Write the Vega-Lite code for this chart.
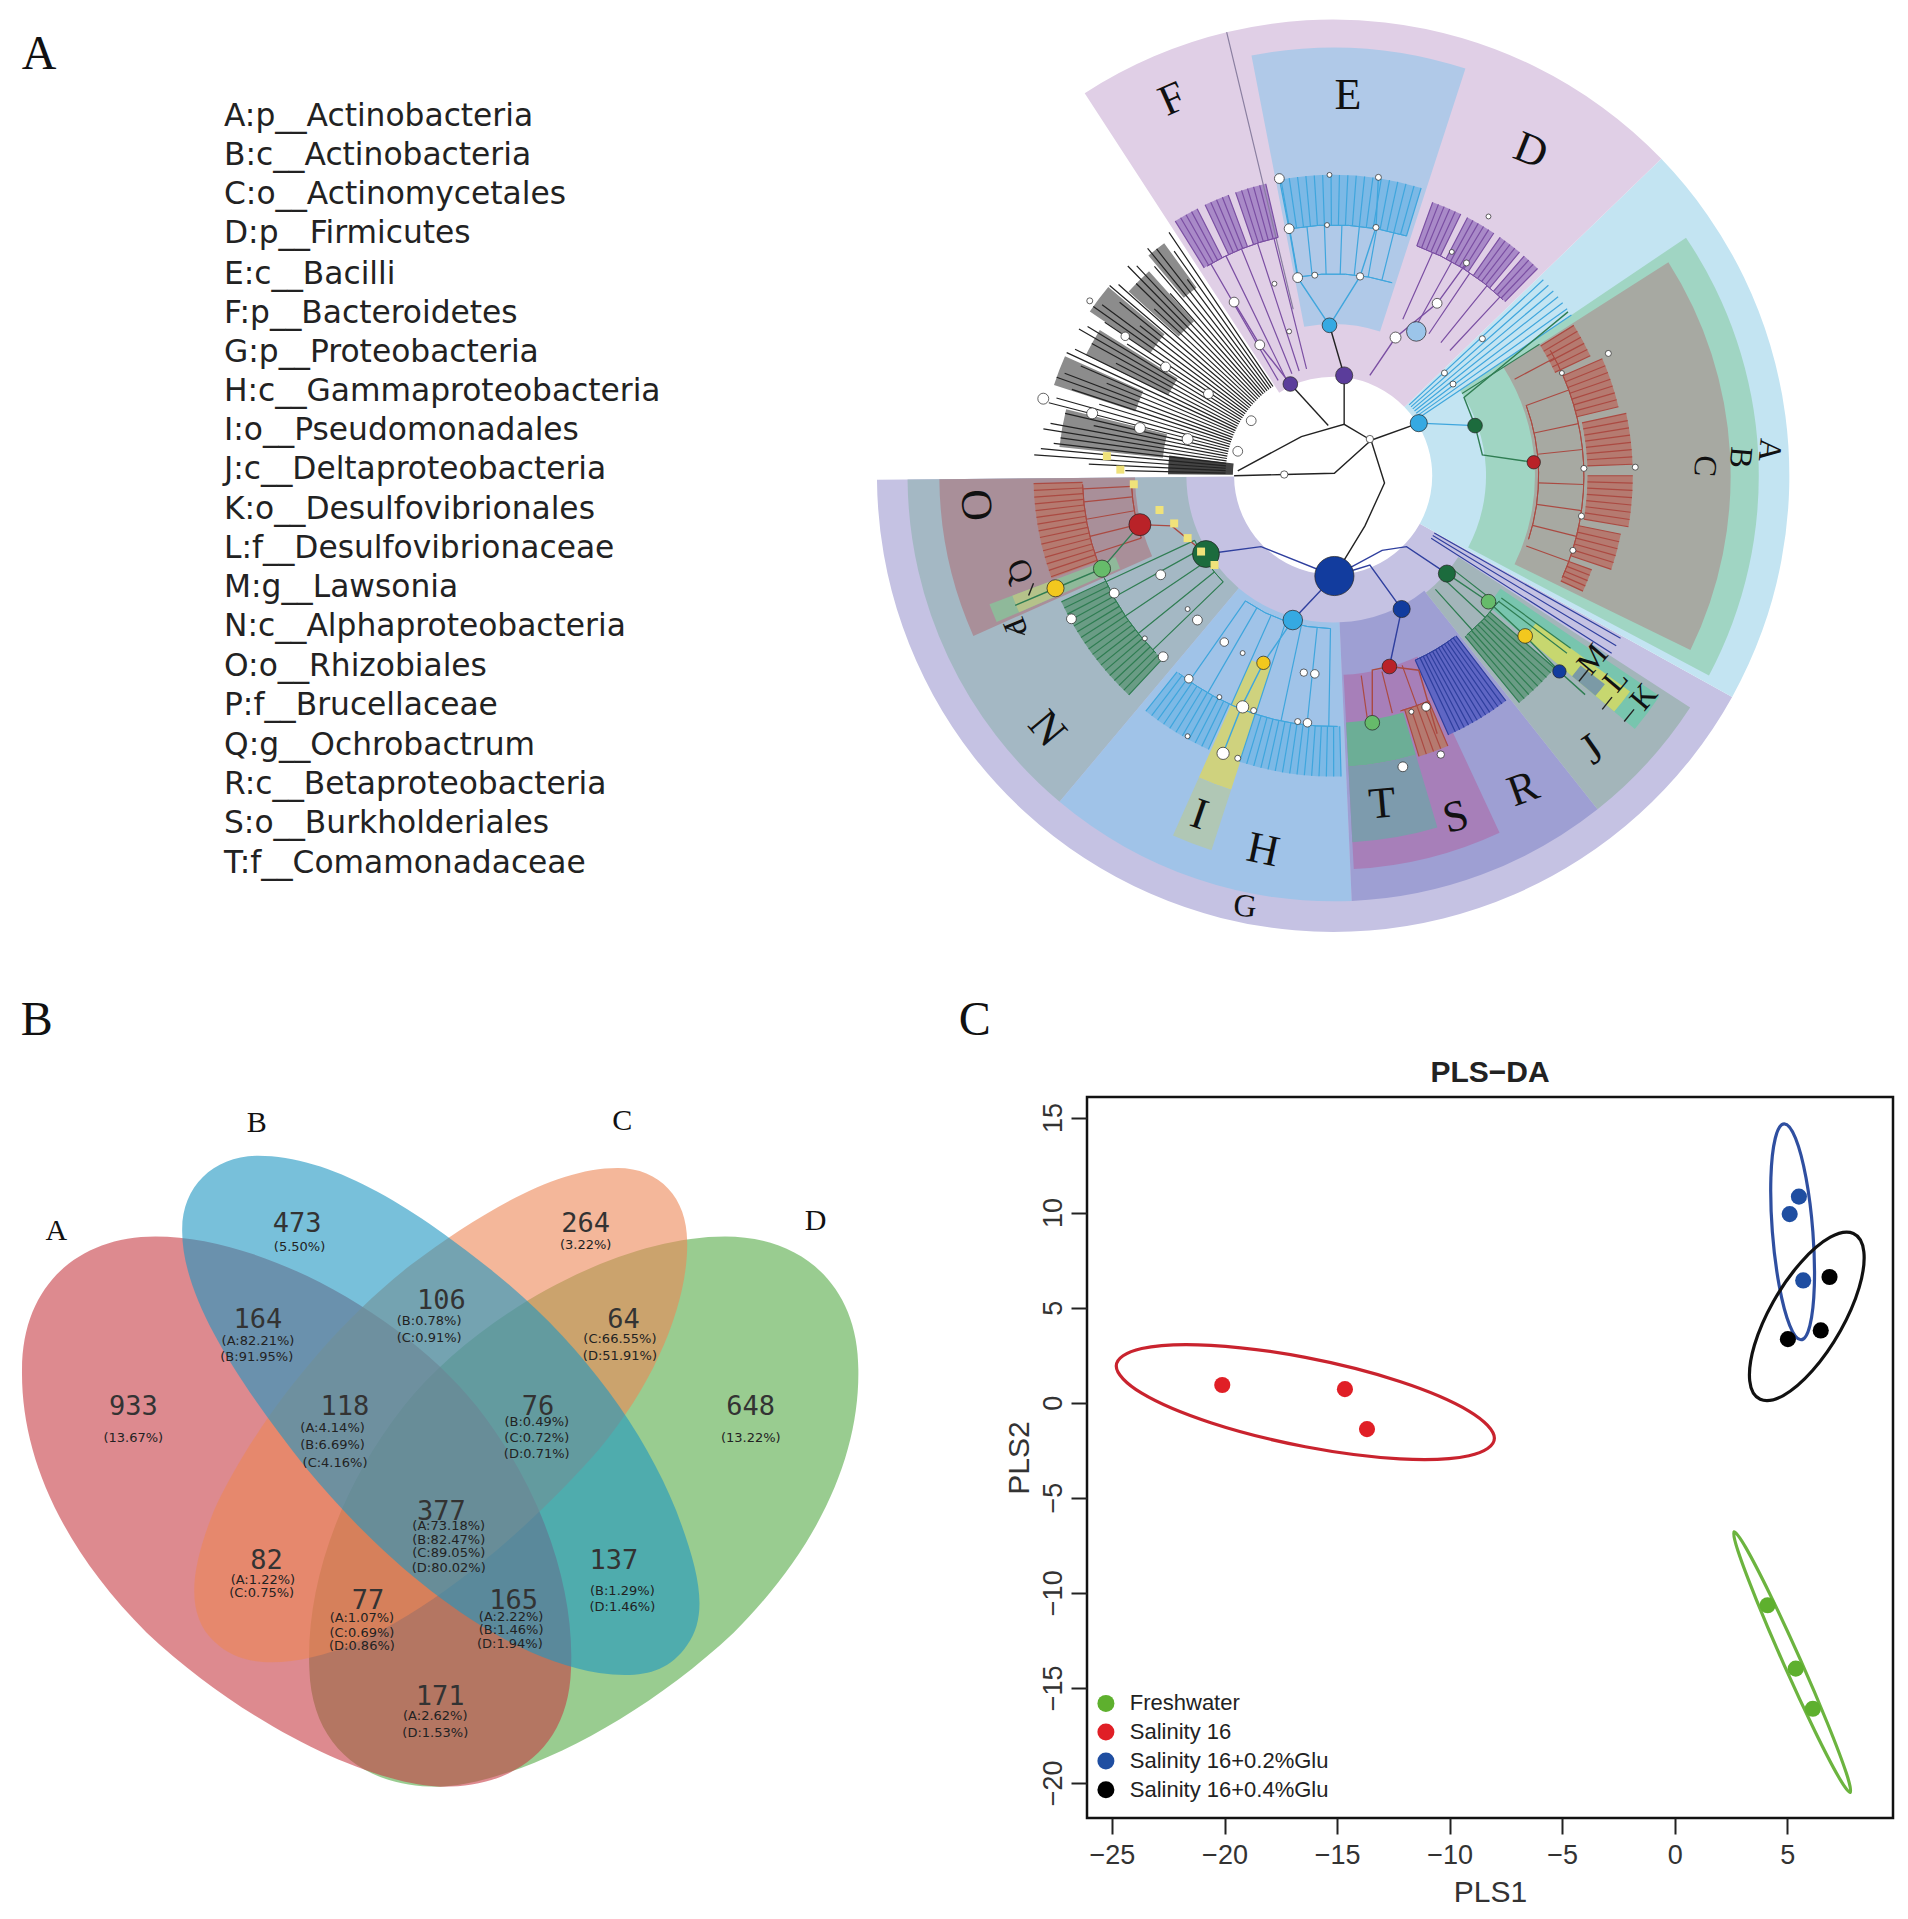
{"$schema":"https://vega.github.io/schema/vega-lite/v6.json","padding":0,"background":"white","spacing":0,"bounds":"flush","config":{"view":{"stroke":null}},
"resolve":{"scale":{"color":"independent","fill":"independent","stroke":"independent","size":"independent","shape":"independent"}},
"datasets":{
"zones":[
{"n":"G","t":119,"u":269.5,"a":81,"b":373},{"n":"A","t":46,"u":119,"a":81,"b":373},{"n":"D","t":-33,"u":46,"a":81,"b":373},
{"n":"N","t":220,"u":269.5,"a":120,"b":348},{"n":"H","t":177.5,"u":220,"a":120,"b":348},{"n":"R","t":141.6,"u":177.5,"a":120,"b":348},{"n":"J","t":123,"u":141.6,"a":122,"b":348},
{"n":"B","t":56,"u":118,"a":125,"b":348},{"n":"C","t":57.5,"u":116,"a":165,"b":325},{"n":"E","t":-11,"u":18,"a":124,"b":350},
{"n":"O","t":246,"u":269.5,"a":162,"b":322},{"n":"I1","t":198,"u":204,"a":165,"b":270},{"n":"I2","t":198,"u":204,"a":270,"b":322},
{"n":"S","t":155,"u":177,"a":163,"b":322},{"n":"T1","t":163.5,"u":177,"a":202,"b":238},{"n":"T2","t":163.5,"u":177,"a":238,"b":300},
{"n":"K","t":124,"u":130,"a":165,"b":322},{"n":"L","t":126,"u":130,"a":205,"b":300},{"n":"M","t":127.5,"u":130,"a":255,"b":280},
{"n":"P","t":246.5,"u":249.5,"a":190,"b":300},{"n":"Q","t":246.5,"u":249.5,"a":240,"b":280},{"n":"hub","t":-89.5,"u":-83,"a":82,"b":135},
{"n":"fr","t":58,"u":65,"a":200,"b":232},{"n":"fr","t":66.5,"u":76.4,"a":205,"b":240},{"n":"fr","t":78,"u":87.8,"a":208,"b":245},{"n":"fr","t":90,"u":99.8,"a":208,"b":245},{"n":"fr","t":101.5,"u":108.6,"a":205,"b":240},{"n":"fr","t":110,"u":114.8,"a":205,"b":225},{"n":"fr","t":250,"u":268.5,"a":205,"b":245},{"n":"fr","t":157,"u":163,"a":200,"b":240},
{"n":"fp","t":20,"u":26,"a":200,"b":238},{"n":"fp","t":27.5,"u":33.5,"a":200,"b":238},{"n":"fp","t":35,"u":39.8,"a":200,"b":238},{"n":"fp","t":41,"u":44.6,"a":200,"b":238},{"n":"fp","t":-19,"u":-13,"a":200,"b":245},{"n":"fp","t":-25.3,"u":-20.5,"a":200,"b":245},{"n":"fp","t":-31.8,"u":-27,"a":200,"b":245},
{"n":"fb","t":-10,"u":17,"a":205,"b":246},{"n":"fb","t":178.5,"u":198,"a":205,"b":246},{"n":"fb","t":204.5,"u":218.5,"a":205,"b":246},
{"n":"fd","t":223,"u":245,"a":205,"b":245},{"n":"fd","t":131,"u":140.6,"a":170,"b":240},{"n":"fn","t":142.5,"u":156,"a":165,"b":232},
{"n":"fk","t":-40,"u":-36,"a":190,"b":235},{"n":"fk","t":-48,"u":-42,"a":170,"b":225},{"n":"fk","t":-56,"u":-50,"a":180,"b":240},{"n":"fk","t":-64,"u":-58,"a":150,"b":225},{"n":"fk","t":-72,"u":-66,"a":170,"b":240},{"n":"fk","t":-84,"u":-76,"a":140,"b":225}],
"rad":[
{"t":58,"a":200,"b":232,"g":"r"},{"t":59.4,"a":200,"b":232,"g":"r"},{"t":60.8,"a":200,"b":232,"g":"r"},{"t":62.2,"a":200,"b":232,"g":"r"},{"t":63.6,"a":200,"b":232,"g":"r"},{"t":65,"a":200,"b":232,"g":"r"},
{"t":66.5,"a":205,"b":240,"g":"r"},{"t":68,"a":205,"b":240,"g":"r"},{"t":69.4,"a":205,"b":240,"g":"r"},{"t":70.8,"a":205,"b":240,"g":"r"},{"t":72.2,"a":205,"b":240,"g":"r"},{"t":73.6,"a":205,"b":240,"g":"r"},{"t":75,"a":205,"b":240,"g":"r"},{"t":76.4,"a":205,"b":240,"g":"r"},
{"t":78,"a":208,"b":245,"g":"r"},{"t":79.4,"a":208,"b":245,"g":"r"},{"t":80.8,"a":208,"b":245,"g":"r"},{"t":82.2,"a":208,"b":245,"g":"r"},{"t":83.6,"a":208,"b":245,"g":"r"},{"t":85,"a":208,"b":245,"g":"r"},{"t":86.4,"a":208,"b":245,"g":"r"},{"t":87.8,"a":208,"b":245,"g":"r"},
{"t":90,"a":208,"b":245,"g":"r"},{"t":91.4,"a":208,"b":245,"g":"r"},{"t":92.8,"a":208,"b":245,"g":"r"},{"t":94.2,"a":208,"b":245,"g":"r"},{"t":95.6,"a":208,"b":245,"g":"r"},{"t":97,"a":208,"b":245,"g":"r"},{"t":98.4,"a":208,"b":245,"g":"r"},{"t":99.8,"a":208,"b":245,"g":"r"},
{"t":101.5,"a":205,"b":240,"g":"r"},{"t":103,"a":205,"b":240,"g":"r"},{"t":104.4,"a":205,"b":240,"g":"r"},{"t":105.8,"a":205,"b":240,"g":"r"},{"t":107.2,"a":205,"b":240,"g":"r"},{"t":108.6,"a":205,"b":240,"g":"r"},
{"t":110,"a":205,"b":225,"g":"r"},{"t":111.2,"a":205,"b":225,"g":"r"},{"t":112.4,"a":205,"b":225,"g":"r"},{"t":113.6,"a":205,"b":225,"g":"r"},{"t":114.8,"a":205,"b":225,"g":"r"},
{"t":62,"a":168,"b":205,"g":"r"},{"t":70,"a":168,"b":205,"g":"r"},{"t":78,"a":168,"b":205,"g":"r"},{"t":84,"a":168,"b":205,"g":"r"},{"t":92,"a":168,"b":205,"g":"r"},{"t":98,"a":168,"b":205,"g":"r"},{"t":104,"a":168,"b":205,"g":"r"},{"t":110,"a":168,"b":205,"g":"r"},
{"t":47,"a":85,"b":235,"g":"b"},{"t":48.5,"a":85,"b":235,"g":"b"},{"t":50,"a":85,"b":235,"g":"b"},{"t":51.5,"a":85,"b":235,"g":"b"},{"t":53,"a":85,"b":235,"g":"b"},{"t":54.5,"a":85,"b":235,"g":"b"},{"t":56,"a":85,"b":235,"g":"b"},{"t":57.5,"a":125,"b":200,"g":"d"},
{"t":20,"a":200,"b":238,"g":"p"},{"t":21.2,"a":200,"b":238,"g":"p"},{"t":22.4,"a":200,"b":238,"g":"p"},{"t":23.6,"a":200,"b":238,"g":"p"},{"t":24.8,"a":200,"b":238,"g":"p"},{"t":26,"a":200,"b":238,"g":"p"},{"t":27.5,"a":200,"b":238,"g":"p"},{"t":28.7,"a":200,"b":238,"g":"p"},{"t":29.9,"a":200,"b":238,"g":"p"},{"t":31.1,"a":200,"b":238,"g":"p"},{"t":32.3,"a":200,"b":238,"g":"p"},{"t":33.5,"a":200,"b":238,"g":"p"},{"t":35,"a":200,"b":238,"g":"p"},{"t":36.2,"a":200,"b":238,"g":"p"},{"t":37.4,"a":200,"b":238,"g":"p"},{"t":38.6,"a":200,"b":238,"g":"p"},{"t":39.8,"a":200,"b":238,"g":"p"},{"t":41,"a":200,"b":238,"g":"p"},{"t":42.2,"a":200,"b":238,"g":"p"},{"t":43.4,"a":200,"b":238,"g":"p"},{"t":44.6,"a":200,"b":238,"g":"p"},
{"t":24,"a":140,"b":200,"g":"p"},{"t":29,"a":140,"b":200,"g":"p"},{"t":34,"a":140,"b":200,"g":"p"},{"t":39,"a":140,"b":200,"g":"p"},{"t":43,"a":140,"b":200,"g":"p"},
{"t":-10,"a":205,"b":246,"g":"b"},{"t":-8.4,"a":205,"b":246,"g":"b"},{"t":-6.8,"a":205,"b":246,"g":"b"},{"t":-5.2,"a":205,"b":246,"g":"b"},{"t":-3.6,"a":205,"b":246,"g":"b"},{"t":-2,"a":205,"b":246,"g":"b"},{"t":-0.4,"a":205,"b":246,"g":"b"},{"t":1.2,"a":205,"b":246,"g":"b"},{"t":2.8,"a":205,"b":246,"g":"b"},{"t":4.4,"a":205,"b":246,"g":"b"},{"t":6,"a":205,"b":246,"g":"b"},{"t":7.6,"a":205,"b":246,"g":"b"},{"t":9.2,"a":205,"b":246,"g":"b"},{"t":10.8,"a":205,"b":246,"g":"b"},{"t":12.4,"a":205,"b":246,"g":"b"},{"t":14,"a":205,"b":246,"g":"b"},{"t":15.6,"a":205,"b":246,"g":"b"},{"t":17,"a":205,"b":246,"g":"b"},
{"t":-10,"a":165,"b":205,"g":"b"},{"t":-6,"a":165,"b":205,"g":"b"},{"t":-2,"a":165,"b":205,"g":"b"},{"t":2,"a":165,"b":205,"g":"b"},{"t":6,"a":165,"b":205,"g":"b"},{"t":10,"a":165,"b":205,"g":"b"},{"t":14,"a":165,"b":205,"g":"b"},
{"t":-13,"a":200,"b":245,"g":"p"},{"t":-14.2,"a":200,"b":245,"g":"p"},{"t":-15.4,"a":200,"b":245,"g":"p"},{"t":-16.6,"a":200,"b":245,"g":"p"},{"t":-17.8,"a":200,"b":245,"g":"p"},{"t":-19,"a":200,"b":245,"g":"p"},{"t":-20.5,"a":200,"b":245,"g":"p"},{"t":-21.7,"a":200,"b":245,"g":"p"},{"t":-22.9,"a":200,"b":245,"g":"p"},{"t":-24.1,"a":200,"b":245,"g":"p"},{"t":-25.3,"a":200,"b":245,"g":"p"},{"t":-27,"a":200,"b":245,"g":"p"},{"t":-28.2,"a":200,"b":245,"g":"p"},{"t":-29.4,"a":200,"b":245,"g":"p"},{"t":-30.6,"a":200,"b":245,"g":"p"},{"t":-31.8,"a":200,"b":245,"g":"p"},
{"t":-14,"a":90,"b":200,"g":"p"},{"t":-18,"a":90,"b":200,"g":"p"},{"t":-22,"a":90,"b":200,"g":"p"},{"t":-26,"a":90,"b":200,"g":"p"},{"t":-30,"a":90,"b":200,"g":"p"},{"t":-13.5,"a":140,"b":373,"g":"s"},
{"t":-34,"a":88,"b":240,"g":"k"},{"t":-35.3,"a":88,"b":225,"g":"k"},{"t":-36.6,"a":88,"b":200,"g":"k"},{"t":-37.9,"a":88,"b":235,"g":"k"},{"t":-39.2,"a":88,"b":240,"g":"k"},{"t":-40.5,"a":88,"b":225,"g":"k"},{"t":-41.8,"a":88,"b":200,"g":"k"},{"t":-43.1,"a":88,"b":235,"g":"k"},{"t":-44.4,"a":88,"b":240,"g":"k"},{"t":-45.7,"a":88,"b":225,"g":"k"},{"t":-47,"a":88,"b":200,"g":"k"},{"t":-48.3,"a":88,"b":235,"g":"k"},{"t":-49.6,"a":88,"b":240,"g":"k"},{"t":-50.9,"a":88,"b":225,"g":"k"},{"t":-52.2,"a":88,"b":200,"g":"k"},{"t":-53.5,"a":88,"b":235,"g":"k"},{"t":-54.8,"a":88,"b":240,"g":"k"},{"t":-56.1,"a":88,"b":225,"g":"k"},{"t":-57.4,"a":88,"b":200,"g":"k"},{"t":-58.7,"a":88,"b":235,"g":"k"},{"t":-60,"a":88,"b":240,"g":"k"},{"t":-61.3,"a":88,"b":225,"g":"k"},{"t":-62.6,"a":88,"b":200,"g":"k"},{"t":-63.9,"a":88,"b":235,"g":"k"},{"t":-65.2,"a":88,"b":240,"g":"k"},{"t":-66.5,"a":88,"b":225,"g":"k"},{"t":-67.8,"a":88,"b":200,"g":"k"},{"t":-69.1,"a":88,"b":235,"g":"k"},{"t":-70.4,"a":88,"b":240,"g":"k"},{"t":-71.7,"a":88,"b":225,"g":"k"},{"t":-73,"a":88,"b":200,"g":"k"},{"t":-74.3,"a":88,"b":235,"g":"k"},{"t":-75.6,"a":88,"b":240,"g":"k"},{"t":-76.9,"a":88,"b":225,"g":"k"},{"t":-78.2,"a":88,"b":200,"g":"k"},{"t":-79.5,"a":88,"b":235,"g":"k"},{"t":-80.8,"a":88,"b":240,"g":"k"},{"t":-82.1,"a":88,"b":225,"g":"k"},{"t":-83.4,"a":88,"b":230,"g":"k"},{"t":-84.7,"a":88,"b":240,"g":"k"},{"t":-86,"a":88,"b":245,"g":"k"},{"t":-87.3,"a":88,"b":200,"g":"k"},{"t":-88.6,"a":88,"b":170,"g":"k"},
{"t":223,"a":205,"b":245,"g":"d"},{"t":224.3,"a":205,"b":245,"g":"d"},{"t":225.6,"a":205,"b":245,"g":"d"},{"t":226.9,"a":205,"b":245,"g":"d"},{"t":228.2,"a":205,"b":245,"g":"d"},{"t":229.5,"a":205,"b":245,"g":"d"},{"t":230.8,"a":205,"b":245,"g":"d"},{"t":232.1,"a":205,"b":245,"g":"d"},{"t":233.4,"a":205,"b":245,"g":"d"},{"t":234.7,"a":205,"b":245,"g":"d"},{"t":236,"a":205,"b":245,"g":"d"},{"t":237.3,"a":205,"b":245,"g":"d"},{"t":238.6,"a":205,"b":245,"g":"d"},{"t":239.9,"a":205,"b":245,"g":"d"},{"t":241.2,"a":205,"b":245,"g":"d"},{"t":242.5,"a":205,"b":245,"g":"d"},{"t":243.8,"a":205,"b":245,"g":"d"},{"t":245.1,"a":205,"b":245,"g":"d"},
{"t":226,"a":125,"b":205,"g":"d"},{"t":231,"a":125,"b":205,"g":"d"},{"t":236,"a":125,"b":205,"g":"d"},{"t":241,"a":125,"b":205,"g":"d"},{"t":245,"a":125,"b":205,"g":"d"},
{"t":250.3,"a":205,"b":245,"g":"r"},{"t":251.6,"a":205,"b":245,"g":"r"},{"t":252.9,"a":205,"b":245,"g":"r"},{"t":254.2,"a":205,"b":245,"g":"r"},{"t":255.5,"a":205,"b":245,"g":"r"},{"t":256.8,"a":205,"b":245,"g":"r"},{"t":258.1,"a":205,"b":245,"g":"r"},{"t":259.4,"a":205,"b":245,"g":"r"},{"t":260.7,"a":205,"b":245,"g":"r"},{"t":262,"a":205,"b":245,"g":"r"},{"t":263.3,"a":205,"b":245,"g":"r"},{"t":264.6,"a":205,"b":245,"g":"r"},{"t":265.9,"a":205,"b":245,"g":"r"},{"t":267.2,"a":205,"b":245,"g":"r"},{"t":268.5,"a":205,"b":245,"g":"r"},
{"t":252,"a":165,"b":205,"g":"r"},{"t":256,"a":165,"b":205,"g":"r"},{"t":260,"a":165,"b":205,"g":"r"},{"t":264,"a":165,"b":205,"g":"r"},{"t":267,"a":165,"b":205,"g":"r"},
{"t":178.5,"a":205,"b":246,"g":"b"},{"t":179.9,"a":205,"b":246,"g":"b"},{"t":181.3,"a":205,"b":246,"g":"b"},{"t":182.7,"a":205,"b":246,"g":"b"},{"t":184.1,"a":205,"b":246,"g":"b"},{"t":185.5,"a":205,"b":246,"g":"b"},{"t":186.9,"a":205,"b":246,"g":"b"},{"t":188.3,"a":205,"b":246,"g":"b"},{"t":189.7,"a":205,"b":246,"g":"b"},{"t":191.1,"a":205,"b":246,"g":"b"},{"t":192.5,"a":205,"b":246,"g":"b"},{"t":193.9,"a":205,"b":246,"g":"b"},{"t":195.3,"a":205,"b":246,"g":"b"},{"t":196.7,"a":205,"b":246,"g":"b"},{"t":198.1,"a":205,"b":246,"g":"b"},{"t":204.5,"a":205,"b":246,"g":"b"},{"t":205.9,"a":205,"b":246,"g":"b"},{"t":207.3,"a":205,"b":246,"g":"b"},{"t":208.7,"a":205,"b":246,"g":"b"},{"t":210.1,"a":205,"b":246,"g":"b"},{"t":211.5,"a":205,"b":246,"g":"b"},{"t":212.9,"a":205,"b":246,"g":"b"},{"t":214.3,"a":205,"b":246,"g":"b"},{"t":215.7,"a":205,"b":246,"g":"b"},{"t":217.1,"a":205,"b":246,"g":"b"},{"t":218.5,"a":205,"b":246,"g":"b"},
{"t":181,"a":125,"b":205,"g":"b"},{"t":186,"a":125,"b":205,"g":"b"},{"t":192,"a":125,"b":205,"g":"b"},{"t":198,"a":125,"b":205,"g":"b"},{"t":204,"a":125,"b":205,"g":"b"},{"t":210,"a":125,"b":205,"g":"b"},{"t":215,"a":125,"b":205,"g":"b"},
{"t":142.5,"a":165,"b":232,"g":"n"},{"t":143.5,"a":165,"b":232,"g":"n"},{"t":144.5,"a":165,"b":232,"g":"n"},{"t":145.5,"a":165,"b":232,"g":"n"},{"t":146.5,"a":165,"b":232,"g":"n"},{"t":147.5,"a":165,"b":232,"g":"n"},{"t":148.5,"a":165,"b":232,"g":"n"},{"t":149.5,"a":165,"b":232,"g":"n"},{"t":150.5,"a":165,"b":232,"g":"n"},{"t":151.5,"a":165,"b":232,"g":"n"},{"t":152.5,"a":165,"b":232,"g":"n"},{"t":153.5,"a":165,"b":232,"g":"n"},{"t":154.5,"a":165,"b":232,"g":"n"},{"t":156,"a":165,"b":232,"g":"n"},
{"t":157,"a":200,"b":240,"g":"r"},{"t":158.5,"a":200,"b":240,"g":"r"},{"t":160,"a":200,"b":240,"g":"r"},{"t":161.5,"a":200,"b":240,"g":"r"},{"t":163,"a":200,"b":240,"g":"r"},{"t":160,"a":165,"b":200,"g":"r"},{"t":166,"a":165,"b":200,"g":"r"},{"t":172,"a":165,"b":200,"g":"r"},
{"t":126,"a":170,"b":240,"g":"d"},{"t":127.2,"a":170,"b":240,"g":"d"},{"t":131,"a":170,"b":240,"g":"d"},{"t":132.2,"a":170,"b":240,"g":"d"},{"t":133.4,"a":170,"b":240,"g":"d"},{"t":134.6,"a":170,"b":240,"g":"d"},{"t":135.8,"a":170,"b":240,"g":"d"},{"t":137,"a":170,"b":240,"g":"d"},{"t":138.2,"a":170,"b":240,"g":"d"},{"t":139.4,"a":170,"b":240,"g":"d"},{"t":140.6,"a":170,"b":240,"g":"d"},{"t":128,"a":125,"b":170,"g":"d"},{"t":133,"a":125,"b":170,"g":"d"},{"t":138,"a":125,"b":170,"g":"d"},
{"t":119.5,"a":95,"b":270,"g":"n"},{"t":121,"a":95,"b":270,"g":"n"},{"t":122.5,"a":95,"b":270,"g":"n"}],
"circ":[{"t":70,"u":108,"r":168,"g":"r"},{"t":60,"u":114,"r":205,"g":"r"},{"t":225,"u":246,"r":205,"g":"d"},{"t":250,"u":268,"r":205,"g":"r"},{"t":179,"u":218,"r":205,"g":"b"},{"t":20,"u":44,"r":200,"g":"p"},{"t":-31,"u":-13,"r":200,"g":"p"},{"t":-10,"u":17,"r":205,"g":"b"},{"t":-10,"u":17,"r":165,"g":"b"},{"t":143,"u":156,"r":165,"g":"n"},{"t":157,"u":164,"r":200,"g":"r"},{"t":127,"u":140,"r":170,"g":"d"},{"t":181,"u":215,"r":125,"g":"b"},{"t":226,"u":245,"r":125,"g":"d"},{"t":252,"u":267,"r":165,"g":"r"}],
"links":[
{"p":1,"o":1,"x":1091,"y":471,"g":"k"},{"p":1,"o":2,"x":1116,"y":430,"g":"k"},{"p":1,"o":3,"x":1132,"y":395,"g":"k"},{"p":1,"o":4,"x":1121,"y":360,"g":"k"},
{"p":2,"o":1,"x":1121,"y":360,"g":"k"},{"p":2,"o":2,"x":1099,"y":347,"g":"k"},{"p":2,"o":3,"x":1064,"y":357,"g":"k"},{"p":2,"o":4,"x":1012,"y":385,"g":"k"},
{"p":3,"o":1,"x":1121,"y":360,"g":"k"},{"p":3,"o":2,"x":1091,"y":387,"g":"k"},{"p":3,"o":3,"x":1050,"y":388,"g":"k"},{"p":3,"o":4,"x":1009,"y":389,"g":"k"},
{"p":4,"o":1,"x":1121,"y":360,"g":"k"},{"p":4,"o":2,"x":1160,"y":346,"g":"k"},{"p":5,"o":1,"x":1099,"y":347,"g":"k"},{"p":5,"o":2,"x":1099,"y":307,"g":"k"},{"p":6,"o":1,"x":1086,"y":348,"g":"k"},{"p":6,"o":2,"x":1055,"y":314,"g":"k"},
{"p":7,"o":1,"x":1091,"y":471,"g":"n"},{"p":7,"o":2,"x":1031,"y":447,"g":"n"},{"p":7,"o":3,"x":986,"y":453,"g":"n"},{"p":8,"o":1,"x":1091,"y":471,"g":"n"},{"p":8,"o":2,"x":1057,"y":507,"g":"n"},
{"p":9,"o":1,"x":1091,"y":471,"g":"n"},{"p":9,"o":2,"x":1120,"y":462,"g":"n"},{"p":9,"o":3,"x":1146,"y":498,"g":"n"},{"p":10,"o":1,"x":1091,"y":471,"g":"n"},{"p":10,"o":2,"x":1130,"y":450,"g":"n"},{"p":10,"o":3,"x":1150,"y":447,"g":"n"},{"p":10,"o":4,"x":1183,"y":469,"g":"n"},{"p":11,"o":1,"x":1146,"y":498,"g":"n"},{"p":11,"o":2,"x":1136,"y":545,"g":"n"},
{"p":12,"o":1,"x":1136,"y":545,"g":"r"},{"p":12,"o":2,"x":1122,"y":548,"g":"r"},{"p":12,"o":3,"x":1122,"y":591,"g":"r"},{"p":13,"o":1,"x":1136,"y":545,"g":"r"},{"p":13,"o":2,"x":1160,"y":548,"g":"r"},{"p":13,"o":3,"x":1175,"y":600,"g":"r"},
{"p":14,"o":1,"x":1057,"y":507,"g":"b"},{"p":14,"o":2,"x":1033,"y":542,"g":"b"},{"p":14,"o":3,"x":1015,"y":578,"g":"b"},{"p":14,"o":4,"x":1000,"y":616,"g":"b"},
{"p":15,"o":1,"x":986,"y":453,"g":"r"},{"p":15,"o":2,"x":958,"y":430,"g":"r"},{"p":15,"o":3,"x":932,"y":429,"g":"r"},{"p":16,"o":1,"x":932,"y":429,"g":"d"},{"p":16,"o":2,"x":901,"y":465,"g":"d"},{"p":16,"o":3,"x":863,"y":481,"g":"d"},{"p":16,"o":4,"x":830,"y":495,"g":"d"},
{"p":17,"o":1,"x":1183,"y":469,"g":"d"},{"p":17,"o":2,"x":1217,"y":492,"g":"d"},{"p":17,"o":3,"x":1247,"y":520,"g":"d"},{"p":17,"o":4,"x":1275,"y":549,"g":"d"},{"p":17,"o":5,"x":1296,"y":568,"g":"d"},
{"p":18,"o":1,"x":1160,"y":346,"g":"b"},{"p":18,"o":2,"x":1206,"y":348,"g":"b"},{"p":19,"o":1,"x":1206,"y":348,"g":"d"},{"p":19,"o":2,"x":1212,"y":372,"g":"d"},{"p":19,"o":3,"x":1254,"y":378,"g":"d"},{"p":20,"o":1,"x":1206,"y":348,"g":"d"},{"p":20,"o":2,"x":1197,"y":325,"g":"d"},{"p":20,"o":3,"x":1282,"y":255,"g":"d"},
{"p":21,"o":1,"x":1120,"y":307,"g":"p"},{"p":21,"o":2,"x":1141,"y":276,"g":"p"},{"p":21,"o":3,"x":1175,"y":248,"g":"p"},{"p":21,"o":4,"x":1199,"y":215,"g":"p"},{"p":22,"o":1,"x":1099,"y":307,"g":"k"},{"p":22,"o":2,"x":1087,"y":266,"g":"k"},
{"p":23,"o":1,"x":1087,"y":266,"g":"b"},{"p":23,"o":2,"x":1061,"y":227,"g":"b"},{"p":23,"o":3,"x":1054,"y":187,"g":"b"},{"p":23,"o":4,"x":1046,"y":146,"g":"b"},{"p":24,"o":1,"x":1087,"y":266,"g":"b"},{"p":24,"o":2,"x":1112,"y":226,"g":"b"},{"p":24,"o":3,"x":1125,"y":186,"g":"b"},{"p":24,"o":4,"x":1127,"y":145,"g":"b"},
{"p":25,"o":1,"x":1055,"y":314,"g":"p"},{"p":25,"o":2,"x":1030,"y":282,"g":"p"},{"p":25,"o":3,"x":1009,"y":247,"g":"p"},
{"p":26,"o":1,"x":1328,"y":590,"g":"k"},{"p":26,"o":2,"x":1336,"y":580,"g":"k"},{"p":27,"o":1,"x":1310,"y":580,"g":"k"},{"p":27,"o":2,"x":1318,"y":570,"g":"k"},{"p":28,"o":1,"x":1291,"y":557,"g":"k"},{"p":28,"o":2,"x":1299,"y":547,"g":"k"},{"p":29,"o":1,"x":841,"y":487,"g":"k"},{"p":29,"o":2,"x":845,"y":477,"g":"k"},{"p":30,"o":1,"x":822,"y":513,"g":"k"},{"p":30,"o":2,"x":838,"y":519,"g":"k"}],
"nodes":[
{"x":1091,"y":471,"s":256,"g":"navy"},{"x":1057,"y":507,"s":64,"g":"sky"},{"x":1146,"y":498,"s":49,"g":"navy"},{"x":1183,"y":469,"s":49,"g":"forest"},{"x":986,"y":453,"s":121,"g":"forest"},{"x":932,"y":429,"s":81,"g":"red"},{"x":901,"y":465,"s":49,"g":"lime"},{"x":863,"y":481,"s":49,"g":"gold"},{"x":1160,"y":346,"s":49,"g":"sky"},{"x":1206,"y":348,"s":36,"g":"forest"},{"x":1254,"y":378,"s":30,"g":"red"},{"x":1099,"y":307,"s":49,"g":"plum"},{"x":1055,"y":314,"s":36,"g":"plum"},{"x":1087,"y":266,"s":36,"g":"sky"},{"x":1136,"y":545,"s":36,"g":"red"},{"x":1122,"y":591,"s":36,"g":"lime"},{"x":1033,"y":542,"s":30,"g":"gold"},{"x":1217,"y":492,"s":36,"g":"lime"},{"x":1247,"y":520,"s":36,"g":"gold"},{"x":1275,"y":549,"s":30,"g":"navy"},{"x":1158,"y":271,"s":64,"g":"pale"},
{"x":1046,"y":146,"s":16,"g":"w"},{"x":1087,"y":143,"s":4,"g":"w"},{"x":1127,"y":145,"s":6,"g":"w"},{"x":1054,"y":187,"s":16,"g":"w"},{"x":1085,"y":184,"s":4,"g":"w"},{"x":1125,"y":186,"s":6,"g":"w"},{"x":1061,"y":227,"s":16,"g":"w"},{"x":1075,"y":225,"s":6,"g":"w"},{"x":1112,"y":226,"s":9,"g":"w"},{"x":1009,"y":247,"s":16,"g":"w"},{"x":1030,"y":282,"s":16,"g":"w"},{"x":1054,"y":271,"s":4,"g":"w"},{"x":1042,"y":232,"s":4,"g":"w"},{"x":1175,"y":248,"s":16,"g":"w"},{"x":1141,"y":276,"s":20,"g":"w"},{"x":1199,"y":215,"s":6,"g":"w"},{"x":1217,"y":177,"s":4,"g":"w"},{"x":1187,"y":206,"s":4,"g":"w"},
{"x":920,"y":275,"s":12,"g":"w"},{"x":953,"y":300,"s":16,"g":"w"},{"x":988,"y":322,"s":16,"g":"w"},{"x":1023,"y":344,"s":16,"g":"w"},{"x":853,"y":326,"s":20,"g":"w"},{"x":893,"y":338,"s":20,"g":"w"},{"x":932,"y":350,"s":20,"g":"w"},{"x":971,"y":359,"s":20,"g":"w"},{"x":1012,"y":369,"s":16,"g":"w"},{"x":891,"y":246,"s":6,"g":"w"},{"x":1120,"y":359,"s":9,"g":"w"},{"x":1050,"y":388,"s":9,"g":"w"},
{"x":1181,"y":305,"s":6,"g":"w"},{"x":1188,"y":314,"s":6,"g":"w"},{"x":1212,"y":277,"s":6,"g":"w"},{"x":1315,"y":289,"s":6,"g":"w"},{"x":1295,"y":383,"s":6,"g":"w"},{"x":1337,"y":382,"s":6,"g":"w"},{"x":1293,"y":422,"s":6,"g":"w"},{"x":1286,"y":450,"s":6,"g":"w"},{"x":1277,"y":305,"s":4,"g":"w"},
{"x":949,"y":470,"s":16,"g":"w"},{"x":911,"y":485,"s":16,"g":"w"},{"x":876,"y":506,"s":16,"g":"w"},{"x":979,"y":507,"s":16,"g":"w"},{"x":951,"y":537,"s":16,"g":"w"},{"x":971,"y":498,"s":4,"g":"w"},{"x":936,"y":522,"s":4,"g":"w"},
{"x":1001,"y":525,"s":12,"g":"w"},{"x":972,"y":555,"s":12,"g":"w"},{"x":1016,"y":578,"s":25,"g":"w"},{"x":1000,"y":616,"s":25,"g":"w"},{"x":1012,"y":620,"s":6,"g":"w"},{"x":1025,"y":581,"s":6,"g":"w"},{"x":1061,"y":590,"s":6,"g":"w"},{"x":1069,"y":591,"s":12,"g":"w"},{"x":1066,"y":550,"s":9,"g":"w"},{"x":1075,"y":551,"s":12,"g":"w"},{"x":1016,"y":534,"s":4,"g":"w"},{"x":997,"y":570,"s":4,"g":"w"},{"x":971,"y":602,"s":4,"g":"w"},
{"x":1147,"y":627,"s":16,"g":"w"},{"x":1166,"y":578,"s":12,"g":"w"},{"x":1154,"y":582,"s":4,"g":"w"},{"x":1178,"y":617,"s":9,"g":"w"}],
"squares":[{"x":905,"y":373},{"x":916,"y":384},{"x":927,"y":396},{"x":948,"y":417},{"x":960,"y":428},{"x":971,"y":440},{"x":982,"y":451},{"x":993,"y":462}],
"letters":[{"k":"F","x":958,"y":80,"rot":-24,"lv":"big"},{"k":"E","x":1102,"y":77,"rot":0,"lv":"big"},{"k":"D","x":1252,"y":122,"rot":22,"lv":"big"},{"k":"H","x":1033,"y":694,"rot":12,"lv":"big"},{"k":"I","x":981,"y":665,"rot":19,"lv":"big"},{"k":"T","x":1130,"y":656,"rot":-5,"lv":"big"},{"k":"S","x":1190,"y":667,"rot":-15,"lv":"big"},{"k":"R","x":1245,"y":644,"rot":-20,"lv":"big"},{"k":"J","x":1301,"y":612,"rot":-35,"lv":"big"},{"k":"N","x":857,"y":595,"rot":50,"lv":"big"},{"k":"O","x":799,"y":413,"rot":85,"lv":"big"},
{"k":"A","x":1447,"y":368,"rot":95,"lv":"small"},{"k":"B","x":1423,"y":374,"rot":95,"lv":"small"},{"k":"C","x":1394,"y":381,"rot":95,"lv":"small"},{"k":"G","x":1018,"y":741,"rot":6,"lv":"small"},{"k":"K","x":1344,"y":570,"rot":-50,"lv":"small"},{"k":"L","x":1321,"y":556,"rot":-50,"lv":"small"},{"k":"M","x":1302,"y":539,"rot":-50,"lv":"small"},{"k":"Q","x":834,"y":467,"rot":68,"lv":"small"},{"k":"P","x":830,"y":513,"rot":68,"lv":"small"}],
"taxa":[{"k":"A:p__Actinobacteria","y":94},{"k":"B:c__Actinobacteria","y":126},{"k":"C:o__Actinomycetales","y":158},{"k":"D:p__Firmicutes","y":190},{"k":"E:c__Bacilli","y":223},{"k":"F:p__Bacteroidetes","y":255},{"k":"G:p__Proteobacteria","y":287},{"k":"H:c__Gammaproteobacteria","y":319},{"k":"I:o__Pseudomonadales","y":351},{"k":"J:c__Deltaproteobacteria","y":383},{"k":"K:o__Desulfovibrionales","y":415},{"k":"L:f__Desulfovibrionaceae","y":447},{"k":"M:g__Lawsonia","y":479},{"k":"N:c__Alphaproteobacteria","y":511},{"k":"O:o__Rhizobiales","y":544},{"k":"P:f__Brucellaceae","y":576},{"k":"Q:g__Ochrobactrum","y":608},{"k":"R:c__Betaproteobacteria","y":640},{"k":"S:o__Burkholderiales","y":672},{"k":"T:f__Comamonadaceae","y":705}],
"panels":[{"k":"A","x":32,"y":45},{"k":"B","x":30,"y":835},{"k":"C","x":797,"y":835}],
"sets":[{"set":"D","x":360,"y":1157},{"set":"A","x":360,"y":1157},{"set":"C","x":360,"y":1157},{"set":"B","x":360,"y":1157}],
"setnames":[{"k":"A","x":46,"y":1005},{"k":"B","x":210,"y":917},{"k":"C","x":509,"y":915},{"k":"D","x":667,"y":997}],
"counts":[{"k":"933","x":109,"y":1149},{"k":"473","x":243,"y":999},{"k":"264","x":479,"y":999},{"k":"648","x":614,"y":1149},{"k":"164","x":211,"y":1078},{"k":"106","x":361,"y":1062},{"k":"64","x":510,"y":1078},{"k":"118","x":282,"y":1149},{"k":"76","x":440,"y":1149},{"k":"377","x":361,"y":1235},{"k":"82","x":218,"y":1275},{"k":"137","x":502,"y":1275},{"k":"77","x":301,"y":1307},{"k":"165","x":420,"y":1307},{"k":"171","x":360,"y":1386}],
"shares":[{"k":"(13.67%)","x":109,"y":1175},{"k":"(5.50%)","x":245,"y":1019},{"k":"(3.22%)","x":479,"y":1017},{"k":"(13.22%)","x":614,"y":1175},{"k":"(A:82.21%)","x":211,"y":1096},{"k":"(B:91.95%)","x":210,"y":1109},{"k":"(B:0.78%)","x":351,"y":1079},{"k":"(C:0.91%)","x":351,"y":1093},{"k":"(C:66.55%)","x":507,"y":1094},{"k":"(D:51.91%)","x":507,"y":1108},{"k":"(A:4.14%)","x":272,"y":1167},{"k":"(B:6.69%)","x":272,"y":1181},{"k":"(C:4.16%)","x":274,"y":1195},{"k":"(B:0.49%)","x":439,"y":1162},{"k":"(C:0.72%)","x":439,"y":1175},{"k":"(D:0.71%)","x":439,"y":1188},{"k":"(A:73.18%)","x":367,"y":1247},{"k":"(B:82.47%)","x":367,"y":1258},{"k":"(C:89.05%)","x":367,"y":1269},{"k":"(D:80.02%)","x":367,"y":1281},{"k":"(A:1.22%)","x":215,"y":1291},{"k":"(C:0.75%)","x":214,"y":1302},{"k":"(B:1.29%)","x":509,"y":1300},{"k":"(D:1.46%)","x":509,"y":1313},{"k":"(A:1.07%)","x":296,"y":1322},{"k":"(C:0.69%)","x":296,"y":1334},{"k":"(D:0.86%)","x":296,"y":1345},{"k":"(A:2.22%)","x":418,"y":1321},{"k":"(B:1.46%)","x":418,"y":1332},{"k":"(D:1.94%)","x":417,"y":1343},{"k":"(A:2.62%)","x":356,"y":1402},{"k":"(D:1.53%)","x":356,"y":1416}],
"key":[{"group":"Freshwater","kx":-25.27,"tx":-24.21,"ky":-15.82},{"group":"Salinity 16","kx":-25.27,"tx":-24.21,"ky":-17.33},{"group":"Salinity 16+0.2%Glu","kx":-25.27,"tx":-24.21,"ky":-18.85},{"group":"Salinity 16+0.4%Glu","kx":-25.27,"tx":-24.21,"ky":-20.36}],
"pts":[{"group":"Salinity 16","PLS1":-20.1,"PLS2":0.93},{"group":"Salinity 16","PLS1":-14.65,"PLS2":0.71},{"group":"Salinity 16","PLS1":-13.67,"PLS2":-1.39},{"group":"Salinity 16+0.2%Glu","PLS1":5.11,"PLS2":9.92},{"group":"Salinity 16+0.2%Glu","PLS1":5.52,"PLS2":10.84},{"group":"Salinity 16+0.2%Glu","PLS1":5.71,"PLS2":6.43},{"group":"Salinity 16+0.4%Glu","PLS1":6.88,"PLS2":6.61},{"group":"Salinity 16+0.4%Glu","PLS1":5.03,"PLS2":3.34},{"group":"Salinity 16+0.4%Glu","PLS1":6.49,"PLS2":3.8},{"group":"Freshwater","PLS1":4.13,"PLS2":-10.66},{"group":"Freshwater","PLS1":5.38,"PLS2":-13.99},{"group":"Freshwater","PLS1":6.14,"PLS2":-16.1}],
"ell":[
{"group":"Salinity 16","o":0,"PLS1":-8.01,"PLS2":-1.87},{"group":"Salinity 16","o":1,"PLS1":-9.14,"PLS2":-0.44},{"group":"Salinity 16","o":2,"PLS1":-12.21,"PLS2":1.115},{"group":"Salinity 16","o":3,"PLS1":-16.41,"PLS2":2.38},{"group":"Salinity 16","o":4,"PLS1":-20.61,"PLS2":3.015},{"group":"Salinity 16","o":5,"PLS1":-23.68,"PLS2":2.85},{"group":"Salinity 16","o":6,"PLS1":-24.81,"PLS2":1.93},{"group":"Salinity 16","o":7,"PLS1":-23.68,"PLS2":0.5},{"group":"Salinity 16","o":8,"PLS1":-20.61,"PLS2":-1.055},{"group":"Salinity 16","o":9,"PLS1":-16.41,"PLS2":-2.32},{"group":"Salinity 16","o":10,"PLS1":-12.21,"PLS2":-2.955},{"group":"Salinity 16","o":11,"PLS1":-9.14,"PLS2":-2.79},
{"group":"Salinity 16+0.2%Glu","o":0,"PLS1":4.87,"PLS2":14.67},{"group":"Salinity 16+0.2%Glu","o":1,"PLS1":5.37,"PLS2":13.91},{"group":"Salinity 16+0.2%Glu","o":2,"PLS1":5.835,"PLS2":11.83},{"group":"Salinity 16+0.2%Glu","o":3,"PLS1":6.14,"PLS2":8.99},{"group":"Salinity 16+0.2%Glu","o":4,"PLS1":6.205,"PLS2":6.15},{"group":"Salinity 16+0.2%Glu","o":5,"PLS1":6.01,"PLS2":4.07},{"group":"Salinity 16+0.2%Glu","o":6,"PLS1":5.61,"PLS2":3.31},{"group":"Salinity 16+0.2%Glu","o":7,"PLS1":5.11,"PLS2":4.07},{"group":"Salinity 16+0.2%Glu","o":8,"PLS1":4.645,"PLS2":6.15},{"group":"Salinity 16+0.2%Glu","o":9,"PLS1":4.34,"PLS2":8.99},{"group":"Salinity 16+0.2%Glu","o":10,"PLS1":4.275,"PLS2":11.83},{"group":"Salinity 16+0.2%Glu","o":11,"PLS1":4.47,"PLS2":13.91},
{"group":"Salinity 16+0.4%Glu","o":0,"PLS1":7.94,"PLS2":8.9},{"group":"Salinity 16+0.4%Glu","o":1,"PLS1":8.405,"PLS2":7.935},{"group":"Salinity 16+0.4%Glu","o":2,"PLS1":8.195,"PLS2":6.05},{"group":"Salinity 16+0.4%Glu","o":3,"PLS1":7.36,"PLS2":3.77},{"group":"Salinity 16+0.4%Glu","o":4,"PLS1":6.125,"PLS2":1.69},{"group":"Salinity 16+0.4%Glu","o":5,"PLS1":4.825,"PLS2":0.375},{"group":"Salinity 16+0.4%Glu","o":6,"PLS1":3.8,"PLS2":0.18},{"group":"Salinity 16+0.4%Glu","o":7,"PLS1":3.335,"PLS2":1.145},{"group":"Salinity 16+0.4%Glu","o":8,"PLS1":3.545,"PLS2":3.03},{"group":"Salinity 16+0.4%Glu","o":9,"PLS1":4.38,"PLS2":5.31},{"group":"Salinity 16+0.4%Glu","o":10,"PLS1":5.615,"PLS2":7.39},{"group":"Salinity 16+0.4%Glu","o":11,"PLS1":6.915,"PLS2":8.705},
{"group":"Freshwater","o":0,"PLS1":2.64,"PLS2":-6.79},{"group":"Freshwater","o":1,"PLS1":3.16,"PLS2":-7.625},{"group":"Freshwater","o":2,"PLS1":4.23,"PLS2":-10.07},{"group":"Freshwater","o":3,"PLS1":5.57,"PLS2":-13.48},{"group":"Freshwater","o":4,"PLS1":6.81,"PLS2":-16.93},{"group":"Freshwater","o":5,"PLS1":7.63,"PLS2":-19.5},{"group":"Freshwater","o":6,"PLS1":7.8,"PLS2":-20.51},{"group":"Freshwater","o":7,"PLS1":7.28,"PLS2":-19.68},{"group":"Freshwater","o":8,"PLS1":6.21,"PLS2":-17.23},{"group":"Freshwater","o":9,"PLS1":4.87,"PLS2":-13.82},{"group":"Freshwater","o":10,"PLS1":3.63,"PLS2":-10.37},{"group":"Freshwater","o":11,"PLS1":2.81,"PLS2":-7.795}]
},
"vconcat":[
{"width":1908,"height":1097,"layer":[
{"data":{"name":"zones"},"mark":{"type":"arc"},"encoding":{
"x":{"datum":1090,"type":"quantitative","axis":null,"scale":{"domain":[0,1560],"nice":false,"zero":false}},
"y":{"datum":389,"type":"quantitative","axis":null,"scale":{"domain":[897,0],"nice":false,"zero":false}},
"theta":{"field":"t","type":"quantitative","stack":false,"scale":{"domain":[0,360],"range":[0,6.28319]}},"theta2":{"field":"u"},
"radius":{"field":"a","type":"quantitative","stack":false,"scale":{"type":"linear","domain":[0,373],"range":[0,456.2]}},"radius2":{"field":"b"},
"fill":{"field":"n","type":"nominal","legend":null,"scale":{"domain":["G","A","D","N","H","R","J","B","C","E","O","I1","I2","S","T1","T2","K","L","M","P","Q","hub","fr","fp","fb","fd","fn","fk"],"range":["#c5c2e3","#c3e4f2","#e0cfe6","#a4b8c4","#a0c3e8","#9e9fd3","#a3b5ba","#a0d5c3","#a7a9a2","#b0c9e8","#a98f99","#cfd27e","#b0c7b5","#a77fb9","#6cae96","#7d9bad","#78c5ae","#c7d76f","#7b9aa6","#8fb99a","#b5c28a","#444444","#b57a70","#a98ac8","#7cb9e6","#6a9c85","#5f66c4","#8c8c8c"]}}}},
{"data":{"name":"rad"},"mark":{"type":"arc","filled":false,"strokeWidth":1.2},"encoding":{
"x":{"datum":1090,"type":"quantitative","axis":null},"y":{"datum":389,"type":"quantitative","axis":null},
"theta":{"field":"t","type":"quantitative","stack":false},"theta2":{"field":"t"},
"radius":{"field":"a","type":"quantitative","stack":false},"radius2":{"field":"b"},
"stroke":{"field":"g","type":"nominal","legend":null,"scale":{"domain":["k","p","b","r","n","d","s"],"range":["#222222","#7b4fa3","#3fa6dd","#ab4a42","#2f3f9e","#2f7d52","#8a7fa0"]}}}},
{"data":{"name":"circ"},"mark":{"type":"arc","filled":false,"strokeWidth":1},"encoding":{
"x":{"datum":1090,"type":"quantitative","axis":null},"y":{"datum":389,"type":"quantitative","axis":null},
"theta":{"field":"t","type":"quantitative","stack":false},"theta2":{"field":"u"},
"radius":{"field":"r","type":"quantitative","stack":false},"radius2":{"field":"r"},
"stroke":{"field":"g","type":"nominal","legend":null,"scale":{"domain":["k","p","b","r","n","d","s"],"range":["#222222","#7b4fa3","#3fa6dd","#ab4a42","#2f3f9e","#2f7d52","#8a7fa0"]}}}},
{"data":{"name":"links"},"mark":{"type":"line","strokeWidth":1.4,"interpolate":"linear"},"encoding":{
"x":{"field":"x","type":"quantitative","axis":null},"y":{"field":"y","type":"quantitative","axis":null},"detail":{"field":"p"},"order":{"field":"o"},
"stroke":{"field":"g","type":"nominal","legend":null,"scale":{"domain":["k","p","b","r","n","d","s"],"range":["#222222","#7b4fa3","#3fa6dd","#ab4a42","#2f3f9e","#2f7d52","#8a7fa0"]}}}},
{"data":{"name":"nodes"},"mark":{"type":"point","filled":true,"opacity":1,"stroke":"#222222","strokeWidth":0.7},"encoding":{
"x":{"field":"x","type":"quantitative","axis":null},"y":{"field":"y","type":"quantitative","axis":null},
"size":{"field":"s","type":"quantitative","legend":null,"scale":{"type":"linear","domain":[0,100],"range":[0,598]}},
"color":{"field":"g","type":"nominal","legend":null,"scale":{"domain":["w","navy","sky","forest","red","lime","gold","plum","pale"],"range":["#ffffff","#123c9e","#35a9e2","#1c6b3d","#b92228","#66bb6a","#f2c81e","#5b3d9b","#9cc5ea"]}}}},
{"data":{"name":"squares"},"mark":{"type":"square","size":64,"opacity":1,"color":"#f0e27a"},"encoding":{"x":{"field":"x","type":"quantitative","axis":null},"y":{"field":"y","type":"quantitative","axis":null}}},
{"data":{"name":"letters"},"transform":[{"filter":"datum.lv=='big'"}],"mark":{"type":"text","font":"Liberation Serif","fontSize":44,"color":"#111111","baseline":"middle","dy":2},"encoding":{"x":{"field":"x","type":"quantitative","axis":null},"y":{"field":"y","type":"quantitative","axis":null},"text":{"field":"k"},"angle":{"field":"rot","type":"quantitative","scale":null}}},
{"data":{"name":"letters"},"transform":[{"filter":"datum.lv=='small'"}],"mark":{"type":"text","font":"Liberation Serif","fontSize":32,"color":"#111111","baseline":"middle"},"encoding":{"x":{"field":"x","type":"quantitative","axis":null},"y":{"field":"y","type":"quantitative","axis":null},"text":{"field":"k"},"angle":{"field":"rot","type":"quantitative","scale":null}}},
{"data":{"name":"taxa"},"mark":{"type":"text","font":"DejaVu Sans","fontSize":31.3,"color":"#222222","align":"left","baseline":"middle","x":224,"dy":2},"encoding":{"y":{"field":"y","type":"quantitative","axis":null},"text":{"field":"k"}}},
{"data":{"name":"panels"},"mark":{"type":"text","font":"Liberation Serif","fontSize":48,"color":"#111111","baseline":"middle"},"encoding":{"x":{"field":"x","type":"quantitative","axis":null},"y":{"field":"y","type":"quantitative","axis":null},"text":{"field":"k"}}}
]},
{"spacing":0,"bounds":"flush","resolve":{"scale":{"color":"independent","fill":"independent","stroke":"independent","size":"independent","shape":"independent"}},"hconcat":[
{"width":1087,"height":822,"layer":[
{"data":{"name":"sets"},"mark":{"type":"point","filled":true,"size":5.98,"opacity":1,"fillOpacity":0.6,"strokeWidth":0},"encoding":{
"x":{"field":"x","type":"quantitative","axis":null,"scale":{"domain":[0,889],"nice":false,"zero":false}},
"y":{"field":"y","type":"quantitative","axis":null,"scale":{"domain":[1569,897],"nice":false,"zero":false}},
"color":{"field":"set","type":"nominal","legend":null,"scale":{"domain":["A","B","C","D"],"range":["#c63c44","#1e96c1","#ed8757","#55aa46"]}},
"shape":{"field":"set","type":"nominal","legend":null,"scale":{"domain":["A","B","C","D"],"range":[
"M-233,-146 C-145,-146 -30,-82 30,-7 C85,63 110,143 107,208 C105,273 60,305 0,304 C-60,301 -160,253 -240,178 C-310,108 -343,33 -342,-37 C-342,-107 -295,-146 -233,-146 Z",
"M-149,-212 C-90,-212 -25,-172 40,-120 C110,-65 165,8 193,78 C212,128 220,163 202,188 C185,213 160,215 130,211 C50,198 -40,128 -110,43 C-165,-27 -212,-97 -211,-152 C-211,-187 -185,-212 -149,-212 Z",
"M145,-202 C95,-202 35,-167 -25,-122 C-95,-67 -155,13 -185,78 C-205,128 -208,163 -185,185 C-165,205 -135,205 -105,198 C-35,183 60,108 130,28 C180,-32 203,-97 202,-142 C202,-177 180,-202 145,-202 Z",
"M233,-146 C145,-146 30,-82 -30,-7 C-85,63 -110,143 -107,208 C-105,273 -60,305 0,304 C60,301 160,253 240,178 C310,108 343,33 342,-37 C342,-107 295,-146 233,-146 Z"]}}}},
{"data":{"name":"setnames"},"mark":{"type":"text","font":"Liberation Serif","fontSize":30,"color":"#111111","baseline":"middle","dy":2},"encoding":{"x":{"field":"x","type":"quantitative","axis":null},"y":{"field":"y","type":"quantitative","axis":null},"text":{"field":"k"}}},
{"data":{"name":"counts"},"mark":{"type":"text","font":"DejaVu Sans Mono","fontSize":27,"color":"#333333","baseline":"middle","dy":2},"encoding":{"x":{"field":"x","type":"quantitative","axis":null},"y":{"field":"y","type":"quantitative","axis":null},"text":{"field":"k"}}},
{"data":{"name":"shares"},"mark":{"type":"text","font":"DejaVu Sans","fontSize":13,"color":"#222222","baseline":"middle","dy":1},"encoding":{"x":{"field":"x","type":"quantitative","axis":null},"y":{"field":"y","type":"quantitative","axis":null},"text":{"field":"k"}}}
]},
{"width":806,"height":721,"view":{"stroke":"#111111","strokeWidth":2.5},
"title":{"text":"PLS−DA","font":"Liberation Sans","fontSize":30,"fontWeight":"bold","color":"#222222","anchor":"middle","offset":9},
"layer":[
{"data":{"name":"ell"},"mark":{"type":"line","interpolate":"cardinal-closed","strokeWidth":3.2},"encoding":{
"x":{"field":"PLS1","type":"quantitative","scale":{"domain":[-26.11,9.7],"nice":false,"zero":false},"axis":{"title":"PLS1","values":[-25,-20,-15,-10,-5,0,5],"grid":false,"domain":false,"tickSize":16,"tickWidth":2,"tickColor":"#222222","labelFont":"Liberation Sans","labelFontSize":27,"labelColor":"#333333","labelPadding":8,"titleFont":"Liberation Sans","titleFontSize":30,"titleFontWeight":"normal","titleColor":"#333333","titlePadding":9}},
"y":{"field":"PLS2","type":"quantitative","scale":{"domain":[-21.85,16.08],"nice":false,"zero":false},"axis":{"title":"PLS2","values":[-20,-15,-10,-5,0,5,10,15],"grid":false,"domain":false,"tickSize":16,"tickWidth":2,"tickColor":"#222222","labelFont":"Liberation Sans","labelFontSize":27,"labelColor":"#333333","labelPadding":4,"labelAngle":-90,"labelAlign":"center","labelBaseline":"bottom","titleFont":"Liberation Sans","titleFontSize":30,"titleFontWeight":"normal","titleColor":"#333333","titlePadding":5}},
"detail":{"field":"group"},"order":{"field":"o"},
"stroke":{"field":"group","type":"nominal","legend":null,"scale":{"domain":["Freshwater","Salinity 16","Salinity 16+0.2%Glu","Salinity 16+0.4%Glu"],"range":["#6cb43f","#c9232e","#2f4fa0","#111111"]}}}},
{"data":{"name":"pts"},"mark":{"type":"point","filled":true,"size":260,"opacity":1},"encoding":{
"x":{"field":"PLS1","type":"quantitative","title":"PLS1"},"y":{"field":"PLS2","type":"quantitative","title":"PLS2"},
"color":{"field":"group","type":"nominal","legend":null,"scale":{"domain":["Freshwater","Salinity 16","Salinity 16+0.2%Glu","Salinity 16+0.4%Glu"],"range":["#5eb02e","#e01f26","#1f4ea1","#000000"]}}}},
{"data":{"name":"key"},"mark":{"type":"point","filled":true,"size":289,"opacity":1},"encoding":{
"x":{"field":"kx","type":"quantitative","title":"PLS1"},"y":{"field":"ky","type":"quantitative","title":"PLS2"},
"color":{"field":"group","type":"nominal","legend":null,"scale":{"domain":["Freshwater","Salinity 16","Salinity 16+0.2%Glu","Salinity 16+0.4%Glu"],"range":["#5eb02e","#e01f26","#1f4ea1","#000000"]}}}},
{"data":{"name":"key"},"mark":{"type":"text","font":"Liberation Sans","fontSize":22,"color":"#222222","align":"left","baseline":"middle"},"encoding":{
"x":{"field":"tx","type":"quantitative","title":"PLS1"},"y":{"field":"ky","type":"quantitative","title":"PLS2"},"text":{"field":"group"}}}
]}
]}
]}
